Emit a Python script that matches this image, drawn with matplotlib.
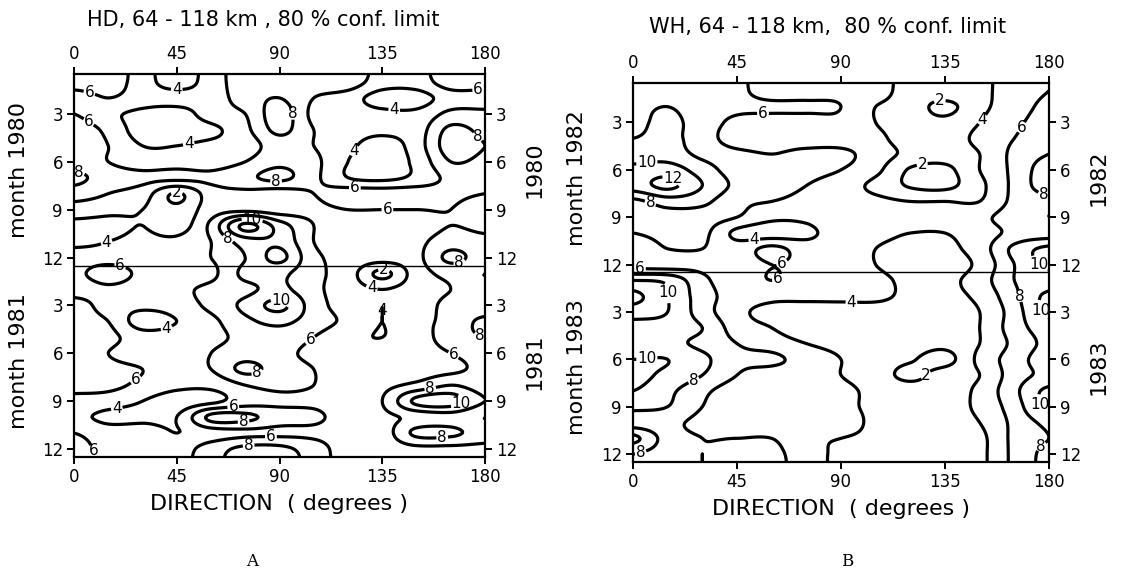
import numpy as np
import matplotlib
matplotlib.use("Agg")
import matplotlib.pyplot as plt
import matplotlib.transforms as mtransforms

# direction grid (degrees) and month rows (1..24 = two consecutive years)
deg = [0, 15, 30, 45, 60, 75, 90, 105, 120, 135, 150, 165, 180]

# HD radar, values (rows = months, cols = deg)
hd_1980 = [
    [7, 7, 5, 3, 5, 7, 7, 7, 7, 5, 5, 7, 7],
    [5, 6, 5, 5, 5, 7, 8, 6, 5, 3, 3, 5, 5],
    [6, 4.5, 3.5, 3, 5, 6, 9, 5.5, 5, 4.5, 4.5, 6.5, 6.5],
    [7, 5.5, 3, 3, 3.5, 5.5, 8.5, 6, 5, 4.5, 5, 8.5, 7.5],
    [7, 6, 4, 4, 4.5, 5, 7, 6, 4.5, 3, 5, 9, 8],
    [7, 6, 5, 5, 5, 6, 7.5, 6.5, 4, 3, 4.5, 8, 7.5],
    [8.5, 7, 6.5, 6.5, 6.5, 7.5, 8.5, 6.5, 4, 3.5, 4.5, 6.5, 6.5],
    [7, 6, 5, 1.8, 5, 5.5, 5, 6, 7, 7, 7, 6.5, 6],
    [5, 4.5, 4, 2.5, 5, 5.5, 5, 5.5, 6, 6, 6, 6, 5],
    [3.5, 3.5, 4, 3, 6.5, 12.5, 9, 6, 5, 5, 5, 6, 5.5],
    [3.5, 4, 4.5, 4.5, 6, 9, 9.5, 6, 5, 5, 5.5, 7, 6.5],
    [5, 5, 5, 5, 6, 8, 10.5, 6.5, 5.5, 5, 5.5, 8.5, 7],
]
hd_1981 = [
    [5.5, 7, 5.5, 5, 5.5, 8.5, 8.5, 6.5, 5, 1.5, 5, 6.5, 6],
    [5, 5.5, 5, 5.5, 6.5, 7.5, 8.5, 6.5, 5, 4, 5, 6, 6.5],
    [7, 5, 4.5, 5, 6.5, 8.5, 10.5, 7, 5, 4, 5, 6.5, 6.5],
    [7, 6, 3, 4, 5.5, 7.5, 8.5, 7, 5.5, 4, 5.5, 6.5, 8.5],
    [7, 6.5, 5, 5, 5.5, 6.5, 7, 6, 4.5, 4, 5, 7, 8],
    [7, 6, 5, 5, 6, 7, 6.5, 5.5, 4.5, 4.5, 5, 6, 7],
    [7, 6.5, 6, 5, 6, 8.5, 7, 6, 5, 5, 5, 5.5, 6.5],
    [6.5, 6.5, 5.5, 4.5, 4.5, 6, 6.5, 6, 5, 5.5, 6.5, 8, 7],
    [5.5, 5, 4, 3, 3.5, 5, 5.5, 5.5, 5, 6, 10.5, 11, 8],
    [4.5, 3.5, 3.5, 4, 8.5, 8.5, 7, 6.5, 5, 5.5, 6.5, 7, 6],
    [6, 5, 5, 4, 5, 5.5, 5.5, 5.5, 5, 5, 8.5, 8.5, 7],
    [6.5, 5.5, 5, 5, 7, 8.5, 8.5, 7, 5, 5, 5.5, 5.5, 5.5],
]

# WH radar
wh_1982 = [
    [7, 7, 7, 6.5, 5, 5, 5.5, 5, 3, 3, 3.5, 5, 6],
    [7.5, 8, 7, 6.5, 6.5, 6.5, 6, 4, 3, 1.5, 3.5, 5, 6.5],
    [7.5, 8.5, 7, 5.5, 5, 5, 5.5, 4, 3, 2.5, 4, 5.5, 7],
    [8, 8.5, 7, 5, 5, 5, 5, 4.5, 3, 3, 4.5, 6, 7.5],
    [9, 9, 7.5, 6.5, 6, 6.5, 6.5, 5, 3.5, 3, 4, 6.5, 8],
    [10.5, 11, 9, 7, 6.5, 6.5, 6, 4.5, 1.8, 1.5, 4, 6.5, 9],
    [11, 12.5, 10, 7.5, 6.5, 6, 5, 3.5, 1.8, 1.5, 3.5, 6.5, 9],
    [7.5, 9, 8.5, 6.5, 6, 5.5, 5, 4.5, 4, 4, 4, 6.5, 7.5],
    [6.5, 7, 7, 6, 4.5, 4.5, 5.5, 5, 5, 5, 5.5, 7, 8],
    [6, 6.5, 6.5, 3.5, 3, 3.5, 5, 4.5, 4, 4, 5, 6.5, 7],
    [5, 6, 6, 5, 6.5, 5, 5, 4, 3.5, 3.5, 5, 8.5, 10.5],
    [5, 5, 5.5, 5, 6, 5.5, 5, 4, 3, 3, 4.5, 8, 10.5],
]
wh_1983 = [
    [10, 9.5, 6.5, 5, 6, 5, 4.5, 4.5, 3.5, 3.5, 5, 8, 9],
    [12.5, 10, 7, 5, 4.5, 4.5, 4.5, 4.5, 3.5, 3.5, 4.5, 7.5, 10.5],
    [11, 10, 7, 4.5, 3.5, 3, 3, 3, 3, 3, 4, 7, 10.5],
    [9, 9, 8, 5, 4, 3, 3, 3, 3, 3, 4, 7, 9],
    [8.5, 8.5, 7.5, 6, 5, 4, 3.5, 3, 3, 2.6, 4, 6.5, 8.5],
    [10, 10, 8.5, 6.5, 6.5, 5, 4, 3, 2.2, 1.3, 4.5, 7, 9],
    [10.5, 9.5, 8, 6, 5, 5, 4, 3, 1.5, 3, 4, 7, 8.5],
    [10, 8.5, 6.5, 5, 5, 5, 4.5, 3.5, 3, 3, 4.5, 7.5, 10.5],
    [8.5, 8, 6, 5, 5, 4.5, 4.5, 3.5, 3, 3, 4.5, 7, 10.5],
    [7, 6.5, 5.5, 5, 4.5, 5, 5, 3.5, 3, 3, 4, 6.5, 8.5],
    [10.5, 7, 6, 6, 6, 4.5, 4, 3.5, 3, 3, 3.5, 6.5, 8],
    [8, 7, 6, 7, 6.5, 5, 3.5, 3, 3, 3, 3.5, 6.5, 8.5],
]

levels = [2, 4, 6, 8, 10, 12]
month_ticks = [3, 6, 9, 12, 15, 18, 21, 24]
month_labels = ["3", "6", "9", "12", "3", "6", "9", "12"]


def cubic_weights(src, dst):
    h = src[1] - src[0]
    t = np.abs((dst[:, None] - src[None, :]) / h)
    a = -0.5
    w = np.where(t <= 1, (a + 2) * t**3 - (a + 3) * t**2 + 1,
                 np.where(t < 2, a * t**3 - 5 * a * t**2 + 8 * a * t - 4 * a, 0.0))
    return w / w.sum(axis=1, keepdims=True)


def draw_panel(ax, year1, year2, years):
    z = np.array(year1 + year2, dtype=float)
    x = np.array(deg, dtype=float)
    y = np.arange(1, 25, dtype=float)
    xf = np.linspace(0, 180, 241)
    yf = np.linspace(0.5, 24.5, 241)
    zf = cubic_weights(y, yf) @ z @ cubic_weights(x, xf).T
    X, Y = np.meshgrid(xf, yf)
    cs = ax.contour(X, Y, zf, levels=levels, colors="black", linewidths=2.3)
    labels = ax.clabel(cs, fmt="%d", fontsize=11, inline=True, inline_spacing=1)
    for t in labels:
        t.set_rotation(0)
    ax.axhline(12.5, color="black", lw=1.0)
    ax.set_xlim(0, 180)
    ax.set_ylim(24.5, 0.5)
    ax.set_xticks([0, 45, 90, 135, 180])
    ax.set_yticks(month_ticks)
    ax.set_yticklabels(month_labels)
    ax.tick_params(direction="out", length=5, width=1.4, labelsize=12, pad=3,
                   top=True, labeltop=True, right=True, labelright=True)
    for s in ax.spines.values():
        s.set_linewidth(1.6)
    ax.set_xlabel("DIRECTION  ( degrees )", fontsize=16, labelpad=6)
    tr = mtransforms.blended_transform_factory(ax.transAxes, ax.transData)
    for yc, yr in ((6.5, years[0]), (18.5, years[1])):
        ax.text(-0.135, yc, "month " + yr, transform=tr, rotation=90,
                ha="center", va="center", fontsize=16)
        ax.text(1.12, yc, yr, transform=tr, rotation=90,
                ha="center", va="center", fontsize=16)


fig = plt.figure(figsize=(11.21, 5.73), dpi=100)
axA = fig.add_axes([74 / 1121, 1 - 457 / 573, 411 / 1121, 383 / 573])
axB = fig.add_axes([633 / 1121, 1 - 462 / 573, 416 / 1121, 379 / 573])

draw_panel(axA, hd_1980, hd_1981, ("1980", "1981"))
draw_panel(axB, wh_1982, wh_1983, ("1982", "1983"))

fig.text(263 / 1121, 1 - 20 / 573, "HD, 64 - 118 km , 80 % conf. limit",
         ha="center", va="center", fontsize=15)
fig.text(828 / 1121, 1 - 27 / 573, "WH, 64 - 118 km,  80 % conf. limit",
         ha="center", va="center", fontsize=15)
fig.text(252 / 1121, 1 - 562 / 573, "A", ha="center", va="center",
         fontsize=12, family="DejaVu Serif")
fig.text(847 / 1121, 1 - 562 / 573, "B", ha="center", va="center",
         fontsize=12, family="DejaVu Serif")

fig.savefig("out.png", dpi=100)
